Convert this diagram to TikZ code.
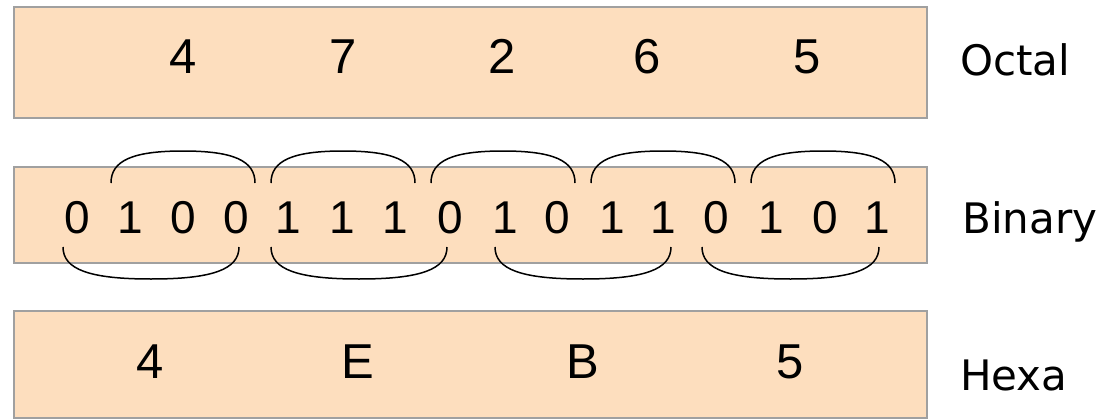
\documentclass[tikz,border=0pt]{standalone}
\usepackage{fontspec}
\setmainfont{Liberation Sans}
\newfontfamily\digfont{Liberation Sans}
\newfontfamily\lblfont{DejaVu Sans}
\definecolor{peach}{RGB}{253,222,190}
\definecolor{edgegray}{RGB}{160,160,160}
\begin{document}
\begin{tikzpicture}[x=1pt,y=-1pt,
  panel/.style={draw=edgegray, line width=1.8pt, fill=peach, inner sep=0pt, outer sep=0pt},
  big/.style={font=\digfont\fontsize{49}{51}\selectfont, inner sep=0pt, anchor=base},
  bit/.style={font=\digfont\fontsize{46}{48}\selectfont, inner sep=0pt, anchor=base},
  lbl/.style={font=\lblfont\fontsize{42}{44}\selectfont, inner sep=0pt, anchor=base west},
  brace/.style={line width=1.5pt, black}]
\useasboundingbox (0,0) rectangle (1097,420);
% panels
\node[panel, minimum width=913pt, minimum height=111pt] (oct) at (470.5,62.5) {};
\node[panel, minimum width=913pt, minimum height=96pt] (bin) at (470.5,215) {};
\node[panel, minimum width=913pt, minimum height=107pt] (hex) at (470.5,364.5) {};
% octal digits
\foreach \x/\d [count=\i] in {183/4,343/7,502/2,647/6,807/5}
  \node[big] (o\i) at (\x,74) {\d};
% binary digits
\foreach \x/\d [count=\i] in {77/0,130/1,183/0,236/0,288/1,342/1,395/1,450/0,505/1,557/0,612/1,663/1,716/0,771/1,825/0,877/1}
  \node[bit] (b\i) at (\x,233) {\d};
% hexa digits
\foreach \x/\d [count=\i] in {150/4,358/E,583/B,790/5}
  \node[big] (h\i) at (\x,378) {\d};
% labels
\node[lbl] (lo) at (960,75) {Octal};
\node[lbl] (lb) at (962,233) {Binary};
\node[lbl] (lh) at (960,390) {Hexa};
% top arcs (groups of 3)
\foreach \a/\b [count=\i] in {111/255,271/415,431/575,591/735,751/895}{
  \coordinate (ts\i) at (\a,183);
  \coordinate (te\i) at (\b,183);
  \pgfmathsetmacro{\m}{(\a+\b)/2}
  \pgfmathsetmacro{\k}{0.7*(\b-\a)/2}
  \draw[brace] (ts\i) .. controls (\a,160.6) and (\m-\k,151) .. (\m,151)
                     .. controls (\m+\k,151) and (\b,160.6) .. (te\i);
}
% bottom arcs (groups of 4)
\foreach \a/\b [count=\i] in {63/239,271/447,495/671,702/879}{
  \coordinate (bs\i) at (\a,247);
  \coordinate (be\i) at (\b,247);
  \pgfmathsetmacro{\m}{(\a+\b)/2}
  \pgfmathsetmacro{\k}{0.7*(\b-\a)/2}
  \draw[brace] (bs\i) .. controls (\a,269.4) and (\m-\k,279) .. (\m,279)
                     .. controls (\m+\k,279) and (\b,269.4) .. (be\i);
}
\end{tikzpicture}
\end{document}
